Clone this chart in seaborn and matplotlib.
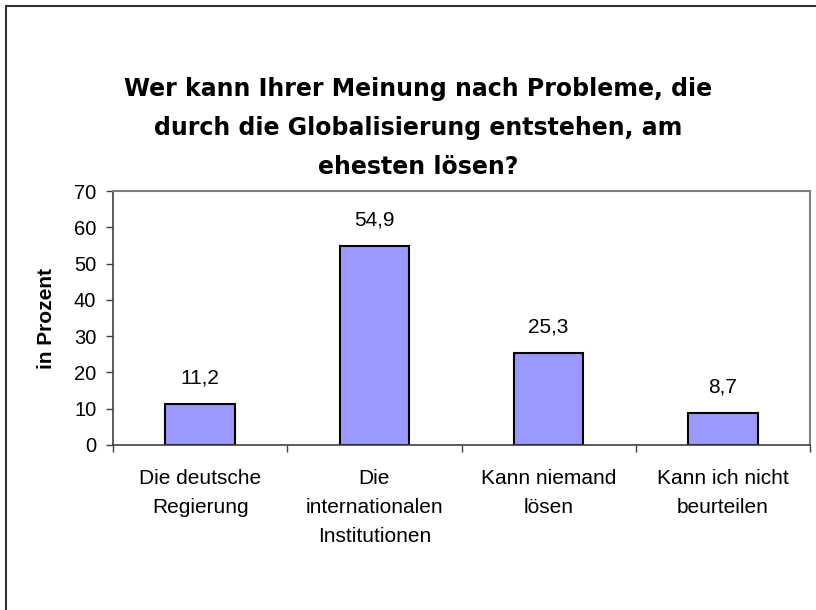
import matplotlib
matplotlib.use("Agg")
import matplotlib.pyplot as plt
import seaborn as sns
import pandas as pd
from matplotlib.lines import Line2D
from matplotlib.ticker import FixedLocator

categories = ["Die deutsche\nRegierung", "Die\ninternationalen\nInstitutionen",
              "Kann niemand\nlösen", "Kann ich nicht\nbeurteilen"]
values = [11.2, 54.9, 25.3, 8.7]
value_labels = ["11,2", "54,9", "25,3", "8,7"]
yticks = [0, 10, 20, 30, 40, 50, 60, 70]
title = "Wer kann Ihrer Meinung nach Probleme, die\ndurch die Globalisierung entstehen, am\nehesten lösen?"

sns.set_style("white")
plt.rcParams['font.family'] = ['Liberation Sans', 'DejaVu Sans']
plt.rcParams['text.color'] = 'black'
plt.rcParams['axes.labelcolor'] = 'black'
plt.rcParams['xtick.color'] = 'black'
plt.rcParams['ytick.color'] = 'black'

df = pd.DataFrame({"cat": categories, "val": values})

fig = plt.figure(figsize=(8.16, 6.10), dpi=100)
ax = fig.add_axes([113/816, 1-445/610, (810-113)/816, (445-191)/610])

sns.barplot(data=df, x="cat", y="val", ax=ax, color="#9999FF", saturation=1,
            width=0.4, edgecolor="black", linewidth=1.5)

ax.set_ylim(0, 70)
ax.set_xlim(-0.5, len(categories) - 0.5)
ax.set_yticks(yticks)
ax.set_yticklabels([str(t) for t in yticks], fontsize=14.5)
ax.tick_params(axis='y', length=5, width=1, direction='out', color='#404040',
               labelcolor='black', pad=7, left=True)
ax.tick_params(axis='x', which='major', length=0, pad=17, labelsize=15, labelcolor='black')
ax.xaxis.set_minor_locator(FixedLocator([i - 0.5 for i in range(len(categories) + 1)]))
ax.tick_params(axis='x', which='minor', length=5, width=1, direction='out', color='#404040', bottom=True)
for lbl in ax.get_xticklabels():
    lbl.set_linespacing(1.68)
ax.set_xlabel("")
ax.set_ylabel("in Prozent", fontsize=15, fontweight='bold', color='black')
ax.yaxis.set_label_coords(-(113-56)/697, 0.5)

for s in ['left', 'bottom']:
    ax.spines[s].set_color('#404040')
    ax.spines[s].set_linewidth(1.2)
for s in ['top', 'right']:
    ax.spines[s].set_color('#808080')
    ax.spines[s].set_linewidth(1.5)

for i, (v, t) in enumerate(zip(values, value_labels)):
    ax.annotate(t, (i, v), xytext=(0, 12), textcoords='offset points',
                ha='center', va='bottom', fontsize=15, color='black')

fig.text(418/816, 1-128/610, title, ha='center', va='center', fontsize=17,
         fontweight='bold', linespacing=1.8, family=['DejaVu Sans'], color='black')

fig.add_artist(Line2D([5.5/816, 5.5/816], [0, 1-5.5/610], transform=fig.transFigure,
                      color='#303030', linewidth=1.5))
fig.add_artist(Line2D([5.5/816, 1], [1-5.5/610, 1-5.5/610], transform=fig.transFigure,
                      color='#303030', linewidth=1.5))

fig.savefig("out.png", dpi=100)
